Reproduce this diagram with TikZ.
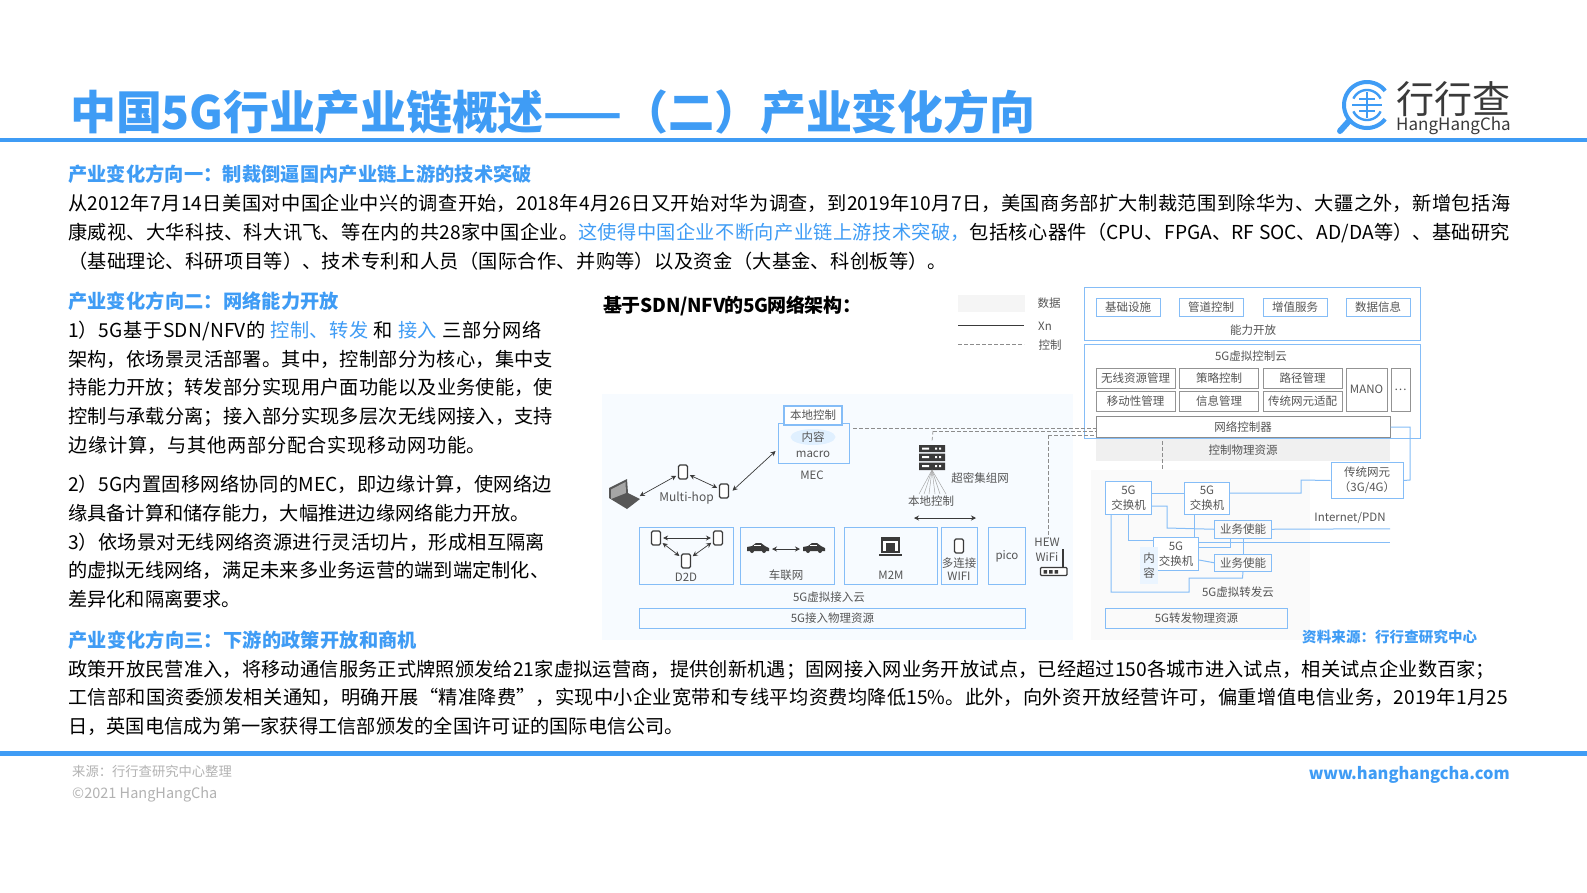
\documentclass[tikz,border=0pt]{standalone}
\usepackage{fontspec}
\setmainfont{Noto Sans CJK SC}
\usetikzlibrary{arrows.meta,calc,shapes.geometric}
\XeTeXlinebreaklocale "zh"
\XeTeXlinebreakskip=0pt plus 3pt minus 1pt
\definecolor{hb}{HTML}{3F9CF5}
\definecolor{bar}{HTML}{3F9CF5}
\definecolor{bline}{HTML}{85BDF7}
\definecolor{gtx}{HTML}{555555}
\definecolor{dk}{HTML}{3A3A3A}
\newcommand\fs[1]{\fontsize{#1}{#1}\selectfont}
\newcommand\fitl[2]{\parbox[b]{#1pt}{\parfillskip=0pt \tolerance=10000 \hbadness=10000 \hfuzz=50pt #2}}
\newcommand\jl[5]{\node[txt] (#1) at (#2,#3) {\fitl{#4}{#5}};}
\newcommand\hd[5]{\node[hdr] (#1) at (#2,#3) {\fitl{#4}{#5}};}
\tikzset{
 txt/.style={inner sep=0,anchor=base west,text=black,font=\fs{19.2}},
 hdr/.style={inner sep=0,anchor=base west,text=hb,font=\fs{19.2}\bfseries},
 lab/.style={inner sep=0,text=gtx,font=\fs{11.5},align=center},
 bbox/.style={draw=bline,line width=1pt,inner sep=0,text=gtx,font=\fs{11.5},align=center},
 gbox/.style={draw=gray!85,line width=1pt,inner sep=0,text=gtx,font=\fs{11.5},align=center},
 conn/.style={draw=bline,line width=1pt},
 ctl/.style={draw=gray!90,line width=.7pt,dash pattern=on 3.5pt off 2.5pt},
 arr/.style={draw=dk,line width=.7pt,shorten >=2pt,shorten <=2pt,{Stealth[length=5pt,width=5pt]}-{Stealth[length=5pt,width=5pt]}},
 phone/.style={draw=dk,line width=1.1pt,rounded corners=1.5pt,minimum width=9pt,minimum height=14pt,inner sep=0,fill=white},
}
\begin{document}
\begin{tikzpicture}[x=1pt,y=-1pt]
\useasboundingbox (0,0) rectangle (1587,892);
\fill[white] (0,0) rectangle (1587,892);
% bars
\fill[bar] (0,137.5) rectangle (1587,142);
\fill[bar] (0,751) rectangle (1587,756);
\node[inner sep=0,anchor=base west,text=hb,font=\fs{46}\bfseries] (title) at (70,129) {\fitl{965}{中国5G行业产业链概述——（二）产业变化方向}};
% logo
\draw[bar,line width=4pt] plot[domain=38:322,samples=50] ({1367+23*cos(\x)},{105+23*sin(\x)});
\draw[bar,line width=2.4pt] plot[domain=25:155,samples=20] ({1367+15*cos(\x)},{105+15*sin(\x)});
\draw[bar,line width=2.4pt] plot[domain=205:335,samples=20] ({1367+15*cos(\x)},{105+15*sin(\x)});
\draw[bar,line width=2.2pt] (1352,105) -- (1382,105);
\draw[bar,line width=2.2pt] (1367,92) -- (1367,118);
\draw[bar,line width=1.8pt] (1359,99) -- (1375,99) (1359,111) -- (1375,111);
\draw[bar,line width=6pt,line cap=round] (1349,121) -- (1340,131);
\node[inner sep=0,anchor=base west,text=dk,font=\fs{38}] (logoa) at (1396,113) {行行查};
\node[inner sep=0,anchor=base west,text=dk,font=\fs{17}] (logob) at (1396,130) {HangHangCha};
% section 1
\hd{h1}{68}{181.5}{464}{产业变化方向一：制裁倒逼国内产业链上游的技术突破}
\jl{a1}{68}{210.5}{1442}{从2012年7月14日美国对中国企业中兴的调查开始，2018年4月26日又开始对华为调查，到2019年10月7日，美国商务部扩大制裁范围到除华为、大疆之外，新增包括海}
\jl{a2}{68}{239}{1442}{康威视、大华科技、科大讯飞、等在内的共28家中国企业。\textcolor{hb}{这使得中国企业不断向产业链上游技术突破，}包括核心器件（CPU、FPGA、RF SOC、AD/DA等）、基础研究}
\jl{a3}{68}{268}{879}{（基础理论、科研项目等）、技术专利和人员（国际合作、并购等）以及资金（大基金、科创板等）。}
% section 2
\hd{h2}{68}{308.5}{271}{产业变化方向二：网络能力开放}
\jl{b1}{68}{337.5}{473}{1）5G基于SDN/NFV的 \textcolor{hb}{控制、转发} 和 \textcolor{hb}{接入} 三部分网络}
\jl{b2}{68}{366}{485}{架构，依场景灵活部署。其中，控制部分为核心，集中支}
\jl{b3}{68}{394.5}{485}{持能力开放；转发部分实现用户面功能以及业务使能，使}
\jl{b4}{68}{423}{485}{控制与承载分离；接入部分实现多层次无线网接入，支持}
\jl{b5}{68}{452}{418}{边缘计算，与其他两部分配合实现移动网功能。}
\jl{b6}{68}{491.5}{484}{2）5G内置固移网络协同的MEC，即边缘计算，使网络边}
\jl{b7}{68}{520}{462}{缘具备计算和储存能力，大幅推进边缘网络能力开放。}
\jl{b8}{68}{549}{477}{3）依场景对无线网络资源进行灵活切片，形成相互隔离}
\jl{b9}{68}{577.5}{481}{的虚拟无线网络，满足未来多业务运营的端到端定制化、}
\jl{b10}{68}{606}{173}{差异化和隔离要求。}
% section 3
\hd{h3}{68}{647}{349}{产业变化方向三：下游的政策开放和商机}
\jl{c1}{68}{676}{1427}{政策开放民营准入，将移动通信服务正式牌照颁发给21家虚拟运营商，提供创新机遇；固网接入网业务开放试点，已经超过150各城市进入试点，相关试点企业数百家；}
\jl{c2}{68}{704.5}{1440}{工信部和国资委颁发相关通知，明确开展“精准降费”，实现中小企业宽带和专线平均资费均降低15\%。此外，向外资开放经营许可，偏重增值电信业务，2019年1月25}
\jl{c3}{68}{733}{616}{日，英国电信成为第一家获得工信部颁发的全国许可证的国际电信公司。}
% footer
\node[inner sep=0,anchor=base west,text=gray!60,font=\fs{13.3}] (f1) at (72,776) {来源：行行查研究中心整理};
\node[inner sep=0,anchor=base west,text=gray!60,font=\fs{14.5}] (f2) at (72,798.5) {©2021 HangHangCha};
\node[inner sep=0,anchor=base east,text=hb,font=\fs{16.4}\bfseries] (f3) at (1510,779) {www.hanghangcha.com};
% diagram backgrounds
\fill[blue!50!cyan!3] (602,394) rectangle (1073,640);
\fill[black!2] (1091,470) rectangle (1310,640);
\node[inner sep=0,anchor=base west,font=\fs{19}\bfseries] (dtitle) at (603,312.5) {\fitl{258}{基于SDN/NFV的5G网络架构：}};
% legend
\fill[black!4] (958,295) rectangle (1025,312);
\coordinate (lg1) at (958,325); \coordinate (lg2) at (1024,325);
\coordinate (lg3) at (958,344); \coordinate (lg4) at (1024,344);
\draw[dk,line width=.7pt] (lg1) -- (lg2);
\draw[ctl] (lg3) -- (lg4);
\node[lab] (l1) at (1049,303.5) {数据};
\node[lab] (l2) at (1045,326) {Xn};
\node[lab] (l3) at (1050,345.5) {控制};
% capability box
\draw[bline,line width=1pt] (1084.5,287.5) rectangle (1420,340);
\node[lab] (cap) at (1253,330) {能力开放};
\node[bbox,minimum width=64pt,minimum height=18pt] (k1) at (1128,307) {基础设施};
\node[bbox,minimum width=64pt,minimum height=18pt] (k2) at (1211,307) {管道控制};
\node[bbox,minimum width=64pt,minimum height=18pt] (k3) at (1295,307) {增值服务};
\node[bbox,minimum width=64pt,minimum height=18pt] (k4) at (1378,307) {数据信息};
% control cloud
\draw[bline,line width=1pt] (1084.5,344) rectangle (1420,438);
\node[lab] (cc) at (1251,356) {5G虚拟控制云};
\node[gbox,minimum width=79pt,minimum height=20pt] (g1) at (1135.5,378) {无线资源管理};
\node[gbox,minimum width=79pt,minimum height=20pt] (g2) at (1219,378) {策略控制};
\node[gbox,minimum width=79pt,minimum height=20pt] (g3) at (1302.5,378) {路径管理};
\node[gbox,minimum width=79pt,minimum height=20pt] (g4) at (1135.5,401) {移动性管理};
\node[gbox,minimum width=79pt,minimum height=20pt] (g5) at (1219,401) {信息管理};
\node[gbox,minimum width=79pt,minimum height=20pt] (g6) at (1302.5,401) {传统网元适配};
\node[gbox,minimum width=41pt,minimum height=43pt] (g7) at (1366.5,389.5) {MANO};
\node[gbox,minimum width=19pt,minimum height=43pt] (g8) at (1400.5,389.5) {…};
\node[draw=gray!90,fill=white,line width=1pt,inner sep=0,text=gtx,font=\fs{11.5},minimum width=294pt,minimum height=21pt] (nc) at (1243,427) {网络控制器};
\node[fill=black!6,inner sep=0,text=gtx,font=\fs{11.5},minimum width=294pt,minimum height=22pt] (cp) at (1243,450) {控制物理资源};
% access side
\node[bbox,draw=bline,fill=blue!50!cyan!3,line width=1.4pt,minimum width=71pt,minimum height=40pt,anchor=north west] (macro) at (778,423) {};
\node[fill=blue!50!cyan!12,ellipse,inner sep=0,minimum width=45pt,minimum height=16pt,text=gtx,font=\fs{11.5}] (cont) at (813,437) {内容};
\node[lab] (mac) at (813,454) {macro};
\node[bbox,fill=white,line width=1.4pt,minimum width=58pt,minimum height=19pt] (lc) at (813,415.5) {本地控制};
\node[lab] (mec) at (812,475) {MEC};
\node[phone] (p1) at (683,472) {};
\node[phone] (p2) at (724,491) {};
\node[lab,font=\fs{12}] (mh) at (686.5,498) {Multi-hop};
\fill[dk!85] (609,488) -- (627,479) -- (628,493) -- (640,499) -- (627,509) -- (609,498) -- cycle;
\fill[gray!70] (611,489.5) -- (625.5,482) -- (626,493) -- (611,499) -- cycle;
\coordinate (lap) at (638,497);
\draw[arr] (lap) -- (p1);
\draw[arr] (p1) -- (p2);
\draw[arr] ($(p2.east)+(2,1)$) -- ($(macro.west)+(-1,6)$);
% server
\fill[dk] (919,445) rectangle (945,452) (919,453.5) rectangle (945,461) (919,462.5) rectangle (945,470);
\fill[white] (922,447.5) rectangle (929,449.5) (922,456) rectangle (929,458) (922,465) rectangle (929,467);
\fill[white] (935,447.5) rectangle (937,449.5) (939,447.5) rectangle (941,449.5) (935,456) rectangle (937,458) (939,456) rectangle (941,458) (935,465) rectangle (937,467) (939,465) rectangle (941,467);
\coordinate (srv) at (932,470);
\foreach \e in {919,924,929,935,940,946} \draw[gray!70,line width=.5pt] (srv) -- (\e,494);
\node[lab] (sc) at (980,478) {超密集组网};
\node[lab] (lc2) at (931,501) {本地控制};
\coordinate (a1l) at (912,518); \coordinate (a1r) at (978,518);
\draw[arr] (a1l) -- (a1r);
% access boxes
\node[bbox,minimum width=94pt,minimum height=57pt,anchor=north west] (d2d) at (639,527) {};
\node[lab] (d2dt) at (686,577) {D2D};
\node[phone] (q1) at (656,538) {};
\node[phone] (q2) at (718,538) {};
\node[phone] (q3) at (686,561) {};
\draw[arr] (q1) -- (q2);
\draw[arr] (q1) -- (q3);
\draw[arr] (q2) -- (q3);
\node[bbox,minimum width=94pt,minimum height=57pt,anchor=north west] (v2x) at (740,527) {};
\node[lab] (v2xt) at (786,575) {车联网};
\foreach \cx/\nm in {758/car1,814/car2}{
 \fill[dk] (\cx-11,551) -- (\cx-11,547) -- (\cx-6,546) -- (\cx-2,543) -- (\cx+3,543) -- (\cx+7,546) -- (\cx+11,548) -- (\cx+11,551) -- cycle;
 \fill[white] (\cx-4,544.5) rectangle (\cx+3,546);
 \fill[dk] (\cx-6,551) circle (2pt) (\cx+6,551) circle (2pt);
 \coordinate (\nm) at (\cx,548);
}
\coordinate (cl) at (770,549); \coordinate (cr) at (802,549);
\draw[arr] (cl) -- (cr);
\node[bbox,minimum width=93pt,minimum height=57pt,anchor=north west] (m2m) at (844,527) {};
\node[lab] (m2mt) at (891,575) {M2M};
\fill[dk] (881,537) rectangle (900,553);
\fill[white] (883,541) rectangle (898,551);
\fill[dk] (886,543) rectangle (895,551);
\fill[dk] (879,554) rectangle (902,556);
\node[bbox,minimum width=36pt,minimum height=57pt,anchor=north west] (wifi) at (941,527) {};
\node[phone] (q4) at (959,546) {};
\node[lab] (wt) at (959,569) {多连接\\[1.5pt]WIFI};
\node[bbox,minimum width=37pt,minimum height=57pt,anchor=north west] (pico) at (988,527) {pico};
\node[lab] (hew) at (1047,550) {HEW\\[4pt]WiFi};
\draw[dk,line width=1.2pt,rounded corners=1pt,fill=white] (1040.5,567.5) rectangle (1067,575.5);
\draw[dk,line width=1.2pt] (1063,549) -- (1063,567.5);
\fill[dk] (1043.5,570) rectangle (1047,573.5) (1049,570) rectangle (1052.5,573.5) (1054.5,570) rectangle (1058,573.5);
\node[lab] (vac) at (829,597) {5G虚拟接入云};
\node[bbox,minimum width=386pt,minimum height=20pt,anchor=north west] (apr) at (639,608) {5G接入物理资源};
% control dashed lines
\coordinate (d1) at (853,428); \coordinate (d2) at (933,431); \coordinate (d3) at (1048,435);
\draw[ctl] (d1) -- (nc.west |- d1);
\draw[ctl] (d2) -- (nc.west |- d2);
\draw[ctl] (d3) -- (nc.west |- d3);
\draw[ctl] (d2) -- (srv |- 0,441);
\draw[ctl] (d3) -- (hew.north -| d3);
\coordinate (d4) at (1162,441); \coordinate (d5) at (1162,470);
\draw[ctl] (d4) -- (d5);
% forwarding side
\node[bbox,fill=white,minimum width=72pt,minimum height=36pt] (leg) at (1367,480.5) {传统网元\\[3.5pt]（3G/4G）};
\node[bbox,fill=white,minimum width=46pt,minimum height=33pt,anchor=north west] (swa) at (1105,481) {5G\\[3.5pt]交换机};
\node[bbox,fill=white,minimum width=45pt,minimum height=32pt,anchor=north west] (swb) at (1184,482) {5G\\[3.5pt]交换机};
\node[bbox,minimum width=57pt,minimum height=17.5pt,anchor=north west] (en1) at (1214,520) {业务使能};
\node[bbox,minimum width=57pt,minimum height=17.5pt,anchor=north west] (en2) at (1214,553.5) {业务使能};
\draw[conn] (swa.east |- 0,493) -- (swb.west |- 0,493);
\draw[conn] (swb.east |- 0,493) -- (1301,493) -- (1301,480) -- (leg.west);
\draw[conn] (swa.east |- 0,506) -- (1167,506) -- (1167,528) -- (en1.west);
\draw[conn] (nc.east) -- (1410,427) -- (1410,480) -- (leg.east);
\node[bbox,fill=white,minimum width=45pt,minimum height=33pt,anchor=north west] (swc) at (1153,537) {5G\\[3.5pt]交换机};
\node[fill=blue!50!cyan!8,inner sep=0,text=gtx,font=\fs{11.5},minimum width=18pt,minimum height=37pt,align=center] (ct) at (1149,565.5) {内\\[3pt]容};
\draw[conn] (1128,514) -- (1128,540) -- (swc.west |- 0,540);
\draw[conn] (1111,514) -- (1111,592) -- (1189,592) -- (1189,578) -- (1242.5,578) -- (en2.south);
\draw[conn] (1194,514) -- (swc.north -| 1194,0);
\draw[conn] (en1.east) -- (1390,528.75);
\draw[conn] (swc.east |- 0,542) -- (1390,542);
\draw[conn] (swc.east |- 0,547) -- (1230,547) -- (en1.south -| 1230,0);
\draw[conn] (en1.south) -- (en2.north);
\draw[conn] (swc.east |- 0,560) -- (en2.west);
\node[lab] (inet) at (1350,518) {Internet/PDN};
\node[lab] (vfc) at (1238,592) {5G虚拟转发云};
\node[bbox,minimum width=182pt,minimum height=20.5pt,anchor=north west] (fpr) at (1105,607.5) {5G转发物理资源};
\node[inner sep=0,anchor=base west,text=hb,font=\fs{14.5}\bfseries] (src) at (1302,642) {\fitl{175}{资料来源：行行查研究中心}};
\end{tikzpicture}
\end{document}
